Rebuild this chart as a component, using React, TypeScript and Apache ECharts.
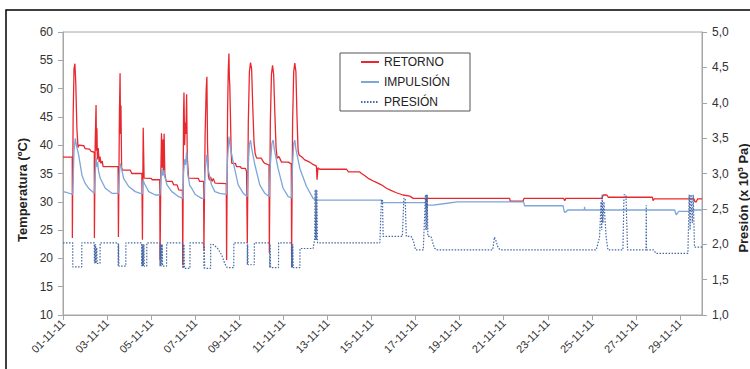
import React, { useEffect, useRef } from "react";
import * as echarts from "echarts";

// x = days since 01-11-11 00:00
const xTickLabels = [
  "01-11-11", "03-11-11", "05-11-11", "07-11-11", "09-11-11", "11-11-11", "13-11-11", "15-11-11",
  "17-11-11", "19-11-11", "21-11-11", "23-11-11", "25-11-11", "27-11-11", "29-11-11",
];

const seriesNames = ["RETORNO", "IMPULSIÓN", "PRESIÓN"];

// RETORNO (ºC)
const retorno: [number, number][] = [
  [0, 37.9], [0.42, 37.9], [0.425, 23.6], [0.46, 45], [0.5, 53.5], [0.54, 54.4], [0.58, 51], [0.63, 43], [0.68, 39.6], [0.72, 40.0], [0.95, 39.9], [1.0, 39.4], [1.2, 39.3], [1.28, 38.9], [1.4, 38.8],
  [1.42, 38.6], [1.425, 23.6], [1.46, 40], [1.5, 47.1], [1.52, 39], [1.54, 43], [1.56, 37.5], [1.6, 39.5], [1.64, 37], [1.68, 38], [1.72, 36.8], [1.78, 37.2], [1.82, 36.2], [2.5, 36.2],
  [2.51, 36.2], [2.515, 23.8], [2.56, 45], [2.59, 52.7], [2.61, 42], [2.63, 47], [2.66, 36], [2.7, 35.6], [3.05, 35.6], [3.12, 35.0], [3.58, 35.0],
  [3.6, 35.0], [3.605, 23.3], [3.64, 43.1], [3.68, 34.2], [4.0, 34.15], [4.05, 33.9], [4.39, 33.9],
  [4.4, 33.9], [4.405, 19.7], [4.44, 35], [4.47, 42.1], [4.5, 36], [4.53, 41], [4.56, 35], [4.59, 42.0], [4.62, 35], [4.66, 34.0], [4.7, 33.6], [4.96, 33.6], [5.02, 33.0], [5.18, 33.0], [5.25, 32.1], [5.42, 32.0],
  [5.43, 32.0], [5.435, 18.8], [5.47, 45], [5.49, 49.3], [5.52, 40], [5.55, 44], [5.58, 42], [5.61, 49.0], [5.64, 38], [5.7, 34.2], [6.14, 34.15], [6.2, 33.6], [6.38, 33.6],
  [6.39, 33.6], [6.395, 21.5], [6.45, 42], [6.5, 50], [6.53, 52.1], [6.56, 40], [6.6, 34.5], [6.65, 33.8], [6.7, 34.4], [6.76, 33.6], [6.82, 34.1], [6.9, 33.3], [7.41, 33.2],
  [7.42, 33.2], [7.425, 19.7], [7.47, 46], [7.5, 53], [7.53, 56.2], [7.55, 52], [7.57, 50.5], [7.6, 45], [7.63, 39], [7.66, 36.8], [7.82, 36.8], [7.88, 36.2], [8.05, 36.2], [8.1, 35.9], [8.28, 35.9], [8.33, 35.3], [8.355, 35.3],
  [8.36, 35.3], [8.365, 22.7], [8.41, 44], [8.46, 53], [8.51, 54.6], [8.56, 53.5], [8.61, 47], [8.67, 40.5], [8.72, 38.6], [8.76, 38.0], [8.8, 37.7], [9.0, 37.7], [9.1, 37.0], [9.16, 36.8], [9.35, 36.5],
  [9.36, 36.5], [9.365, 21.0], [9.41, 44], [9.46, 52.5], [9.51, 54.1], [9.56, 52.5], [9.62, 45], [9.67, 39.5], [9.72, 37.7], [9.8, 38.0], [9.86, 37.5], [9.92, 37.0], [10.22, 37.0], [10.36, 36.7],
  [10.37, 36.7], [10.375, 20.3], [10.42, 44], [10.47, 53], [10.52, 54.5], [10.57, 53], [10.62, 45], [10.67, 39.0], [10.72, 38.2], [10.82, 38.0], [10.97, 37.4], [11.2, 37.0], [11.35, 36.6], [11.5, 36.3],
  [11.53, 33.9], [11.57, 36.0], [11.65, 35.75], [12.87, 35.75], [12.95, 35.3], [13.45, 35.3], [13.55, 35.0], [13.7, 34.6], [13.85, 34.15], [14.15, 33.55], [14.45, 33.0], [14.68, 32.4], [14.83, 32.1], [15.13, 31.6], [15.43, 31.2], [15.74, 31.0], [15.89, 30.6],
  [16.45, 30.6], [16.49, 30.0], [16.53, 30.6], [20.27, 30.6], [20.3, 30.1], [20.88, 30.1], [20.92, 30.6], [22.72, 30.6], [22.77, 30.2], [22.82, 30.6], [24.45, 30.6], [24.52, 31.2], [24.68, 31.2], [24.75, 30.8], [26.75, 30.8], [26.78, 30.2], [26.83, 30.5], [28.64, 30.5], [28.68, 30.0], [28.74, 30.0], [28.8, 30.5], [29, 30.5],
];

// IMPULSIÓN (ºC)
const impulsion: [number, number][] = [
  [0, 31.8], [0.2, 31.6], [0.44, 31.3], [0.5, 39], [0.56, 41.2], [0.62, 39.8], [0.71, 38.3], [0.86, 34.7], [1.0, 33.3], [1.16, 32.4], [1.42, 31.5],
  [1.46, 35], [1.51, 37.7], [1.54, 36.2], [1.57, 37.0], [1.61, 35.5], [1.69, 34.15], [1.92, 32.4], [2.22, 31.5], [2.51, 31.5],
  [2.55, 34.5], [2.6, 36.8], [2.64, 36.2], [2.75, 34.15], [2.98, 32.7], [3.28, 31.8], [3.51, 31.5], [3.6, 31.4],
  [3.63, 33.85], [3.7, 33.2], [3.89, 31.8], [4.19, 31.2], [4.4, 31.2],
  [4.44, 34], [4.49, 35.9], [4.53, 34.6], [4.58, 35.6], [4.62, 34.5], [4.72, 33.0], [4.94, 31.8], [5.25, 30.9], [5.43, 30.6],
  [5.47, 35], [5.52, 37.5], [5.56, 36.5], [5.61, 38.85], [5.66, 35], [5.75, 32.9], [5.84, 32.4], [6.0, 31.3], [6.29, 30.6], [6.39, 30.6],
  [6.44, 35], [6.52, 38.3], [6.6, 35.5], [6.74, 33.0], [6.89, 31.8], [7.12, 31.5], [7.42, 31.3],
  [7.46, 37], [7.53, 41.5], [7.6, 39.5], [7.72, 37.1], [7.95, 33.0], [8.18, 31.5], [8.36, 30.9],
  [8.4, 36], [8.46, 40.2], [8.51, 40.9], [8.56, 39.5], [8.71, 36.5], [8.93, 33.0], [9.16, 31.5], [9.36, 30.9],
  [9.4, 36], [9.48, 40.3], [9.54, 40.9], [9.59, 39.3], [9.76, 35.9], [9.99, 32.4], [10.22, 30.9], [10.37, 30.7],
  [10.41, 36], [10.47, 40.3], [10.52, 40.9], [10.57, 39.3], [10.75, 35.9], [11.05, 32.7], [11.35, 30.6], [11.5, 30.3],
  [14.45, 30.3], [14.47, 29.85], [16.45, 29.85], [16.49, 28.85], [16.53, 29.4], [16.8, 29.4], [17.35, 29.7], [17.9, 30.0], [20.9, 30.0], [20.95, 29.3], [22.7, 29.3], [22.75, 28.2], [22.82, 28.2], [22.9, 28.55], [23.66, 28.55], [23.67, 29.1], [23.68, 28.55], [27.76, 28.55], [27.83, 27.7], [27.95, 28.3], [28.35, 28.3], [28.5, 28.55], [29, 28.55],
];

// PRESIÓN (x 10^5 Pa)
const presion: [number, number][] = [
  [0, 2.02], [0.44, 2.02], [0.445, 1.68], [0.85, 1.68], [0.855, 2.02],
  [1.42, 2.02], [1.425, 1.73], [1.44, 2.0], [1.46, 1.73], [1.48, 2.0], [1.5, 1.73], [1.53, 1.95], [1.55, 1.73], [1.68, 1.73], [1.685, 2.02],
  [2.5, 2.02], [2.505, 1.69], [2.52, 2.0], [2.54, 1.69], [2.85, 1.69], [2.855, 2.02],
  [3.57, 2.02], [3.575, 1.69], [3.59, 2.0], [3.61, 1.69], [3.63, 2.0], [3.65, 1.69], [3.67, 2.0], [3.69, 1.69], [3.8, 1.69], [3.805, 2.02],
  [4.4, 2.02], [4.405, 1.69], [4.42, 2.0], [4.44, 1.69], [4.46, 2.0], [4.48, 1.69], [4.5, 2.0], [4.52, 1.69], [4.7, 1.69], [4.705, 2.02],
  [5.43, 2.02], [5.435, 1.66], [5.45, 2.0], [5.47, 1.66], [5.49, 2.0], [5.51, 1.66], [5.76, 1.66], [5.765, 2.02],
  [6.39, 2.02], [6.395, 1.66], [6.41, 1.98], [6.43, 1.66], [6.7, 1.66], [6.705, 2.0], [6.8, 2.0], [7.0, 1.95], [7.2, 1.85], [7.35, 1.72], [7.45, 1.67], [7.75, 1.67], [7.755, 2.02],
  [8.36, 2.02], [8.365, 1.71], [8.38, 2.0], [8.4, 1.71], [8.68, 1.71], [8.685, 2.02],
  [9.38, 2.02], [9.385, 1.67], [9.4, 2.0], [9.42, 1.67], [9.78, 1.67], [9.785, 2.02],
  [10.37, 2.02], [10.375, 1.67], [10.39, 2.0], [10.41, 1.67], [10.43, 2.0], [10.45, 1.67], [10.75, 1.67], [10.755, 1.94], [11.35, 1.94],
  [11.42, 2.06], [11.44, 2.77], [11.46, 2.06], [11.48, 2.77], [11.5, 2.06], [11.52, 2.77], [11.55, 2.02],
  [14.38, 2.02], [14.45, 2.63], [14.5, 2.63], [14.53, 2.11], [15.4, 2.11], [15.47, 2.65], [15.53, 2.65], [15.58, 2.11], [15.8, 2.11], [15.9, 2.05], [16.0, 1.92], [16.35, 1.92],
  [16.45, 2.7], [16.47, 2.2], [16.49, 2.7], [16.51, 2.2], [16.53, 2.7], [16.56, 2.11], [16.7, 2.11], [16.85, 1.95], [16.94, 1.92],
  [19.5, 1.92], [19.58, 2.1], [19.65, 2.05], [19.75, 1.95], [19.85, 1.92],
  [24.2, 1.92], [24.35, 2.1], [24.42, 2.6], [24.45, 2.2], [24.47, 2.7], [24.5, 2.3], [24.55, 2.6], [24.65, 2.1], [24.73, 1.92],
  [25.41, 1.92], [25.46, 2.7], [25.55, 2.7], [25.62, 1.92], [26.46, 1.92], [26.47, 2.55], [26.48, 1.92], [26.8, 1.92], [26.92, 1.87],
  [28.36, 1.87], [28.42, 2.7], [28.46, 2.2], [28.5, 2.7], [28.56, 2.3], [28.6, 2.7], [28.66, 1.96], [29, 1.96],
];

const FONT = "'Liberation Sans', Arial, sans-serif";

export default function App() {
  const ref = useRef<HTMLDivElement>(null);
  useEffect(() => {
    if (!ref.current) return;
    const chart = echarts.init(ref.current, undefined, { renderer: "svg" });
    const axisGray = "#a6a6a6";
    chart.setOption({
      animation: false,
      backgroundColor: "#ffffff",
      textStyle: { fontFamily: FONT },
      grid: {
        left: 63, right: 48, top: 32, bottom: 54,
        show: true, borderColor: axisGray, borderWidth: 1, backgroundColor: "transparent",
      },
      legend: {
        data: seriesNames,
        orient: "vertical",
        left: 340, top: 53,
        padding: [3, 20, 3, 20],
        itemGap: 8, itemWidth: 18, itemHeight: 12,
        borderColor: "#555", borderWidth: 1,
        itemStyle: { opacity: 0 },
        textStyle: { fontSize: 12, color: "#222", fontFamily: FONT },
        selectedMode: false,
      },
      xAxis: {
        type: "value", min: 0, max: 29, interval: 2,
        axisLine: { show: true, lineStyle: { color: axisGray } },
        axisTick: { show: true, length: 5, lineStyle: { color: axisGray } },
        splitLine: { show: false },
        axisLabel: {
          rotate: 45, fontSize: 11, color: "#333", margin: 6, fontFamily: FONT,
          showMaxLabel: false,
          formatter: (v: number) => xTickLabels[Math.round(v / 2)] ?? "",
        },
      },
      yAxis: [
        {
          type: "value", min: 10, max: 60, interval: 5, position: "left",
          axisLine: { show: true, lineStyle: { color: axisGray } },
          axisTick: { show: true, length: 5, lineStyle: { color: axisGray } },
          splitLine: { show: false },
          axisLabel: { fontSize: 12, color: "#333", margin: 10, fontFamily: FONT },
        },
        {
          type: "value", min: 1, max: 5, interval: 0.5, position: "right",
          axisLine: { show: true, lineStyle: { color: axisGray } },
          axisTick: { show: true, length: 5, lineStyle: { color: axisGray } },
          splitLine: { show: false },
          axisLabel: {
            fontSize: 12, color: "#333", margin: 10, fontFamily: FONT,
            formatter: (v: number) => v.toFixed(1).replace(".", ","),
          },
        },
      ],
      series: [
        {
          name: seriesNames[0], type: "line", data: retorno, yAxisIndex: 0,
          symbol: "none", lineStyle: { color: "#e8282e", width: 1.3 }, itemStyle: { color: "#e8282e" },
        },
        {
          name: seriesNames[1], type: "line", data: impulsion, yAxisIndex: 0,
          symbol: "none", lineStyle: { color: "#7ea6d8", width: 1.3 }, itemStyle: { color: "#7ea6d8" },
        },
        {
          name: seriesNames[2], type: "line", data: presion, yAxisIndex: 1,
          symbol: "none", lineStyle: { color: "#4467a8", width: 1.2, type: [1.5, 1.5] }, itemStyle: { color: "#4467a8" },
        },
      ],
      graphic: [
        {
          type: "rect", shape: { x: 6, y: 10, width: 800, height: 400 },
          style: { fill: "none", stroke: "#000", lineWidth: 1.5 }, silent: true,
        },
        {
          type: "text", x: 22, y: 190, rotation: Math.PI / 2,
          style: {
            text: "Temperatura (ºC)", fontSize: 13, fontWeight: "bold", fill: "#222",
            fontFamily: FONT, textAlign: "center", textVerticalAlign: "middle",
          },
        },
        {
          type: "text", x: 743, y: 198, rotation: Math.PI / 2,
          style: {
            text: "Presión (x 10{sup|5} Pa)", fontSize: 13, fontWeight: "bold", fill: "#222",
            fontFamily: FONT, textAlign: "center", textVerticalAlign: "middle",
            rich: { sup: { fontSize: 8, fontWeight: "bold", fill: "#222", verticalAlign: "top", fontFamily: FONT } },
          },
        },
      ],
    });
    return () => chart.dispose();
  }, []);
  return (
    <div
      ref={ref}
      style={{ position: "fixed", left: 0, top: 0, width: 750, height: 369 }}
    />
  );
}
